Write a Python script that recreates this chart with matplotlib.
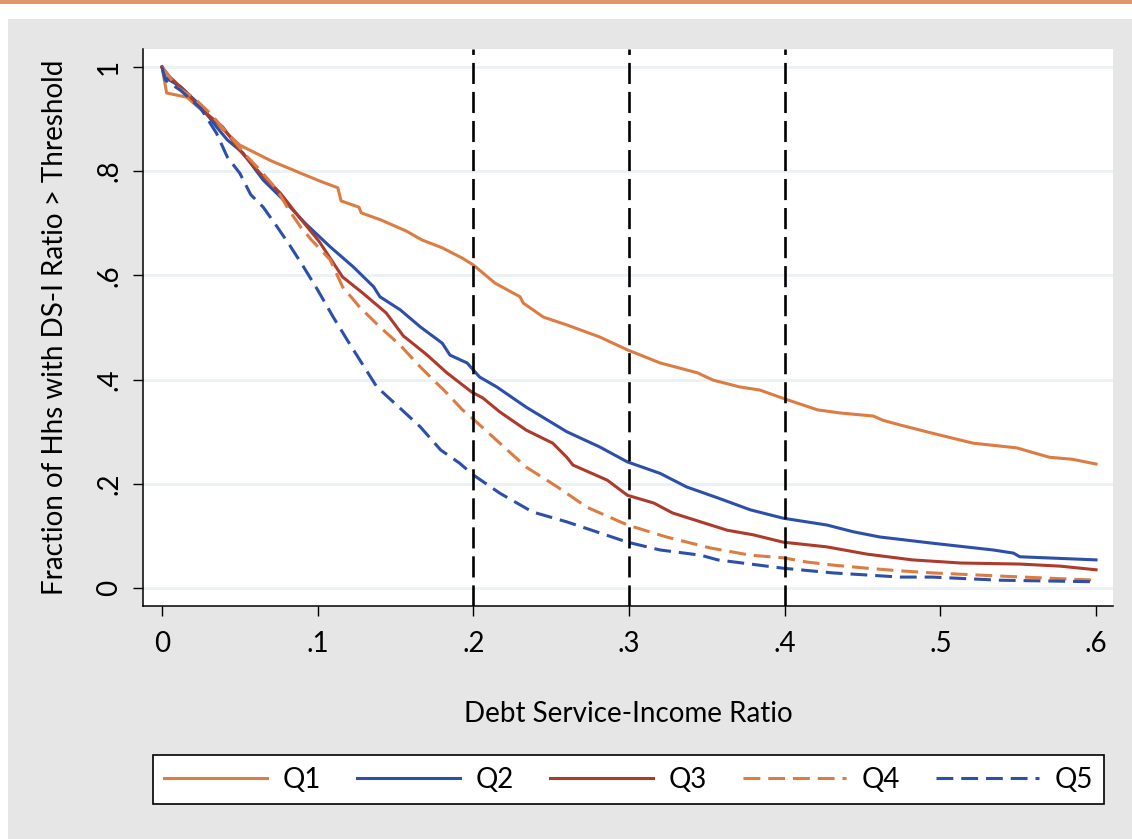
import matplotlib
matplotlib.use("Agg")
import matplotlib.pyplot as plt
from matplotlib.patches import Rectangle

plt.rcParams["font.family"] = ["Lato", "DejaVu Sans"]

# values (survival-style curves)
q1_x = [0, 0.003, 0.016, 0.03, 0.05, 0.07, 0.09, 0.1015, 0.113, 0.115, 0.1265, 0.128, 0.141,
        0.157, 0.167, 0.18, 0.193, 0.2, 0.214, 0.23, 0.232, 0.245, 0.26, 0.281, 0.299, 0.32,
        0.344, 0.354, 0.371, 0.384, 0.399, 0.421, 0.4355, 0.457, 0.463, 0.474, 0.495, 0.521,
        0.549, 0.57, 0.585, 0.6]
q1_y = [1.0, 0.95, 0.942, 0.905, 0.85, 0.82, 0.795, 0.781, 0.768, 0.743, 0.731, 0.72, 0.706,
        0.685, 0.668, 0.653, 0.633, 0.62, 0.585, 0.559, 0.547, 0.52, 0.505, 0.482, 0.457, 0.432,
        0.413, 0.399, 0.386, 0.38, 0.364, 0.342, 0.336, 0.33, 0.322, 0.313, 0.297, 0.278,
        0.269, 0.251, 0.247, 0.238]

q2_x = [0, 0.002, 0.012, 0.025, 0.035, 0.042, 0.052, 0.065, 0.078, 0.092, 0.108, 0.123, 0.136,
        0.14, 0.153, 0.166, 0.18, 0.185, 0.196, 0.204, 0.215, 0.234, 0.26, 0.281, 0.299, 0.32,
        0.337, 0.357, 0.378, 0.399, 0.427, 0.444, 0.461, 0.495, 0.534, 0.547, 0.551, 0.6]
q2_y = [1.0, 0.98, 0.962, 0.925, 0.885, 0.86, 0.835, 0.783, 0.745, 0.70, 0.655, 0.616, 0.578,
        0.559, 0.534, 0.501, 0.47, 0.447, 0.432, 0.405, 0.386, 0.347, 0.30, 0.271, 0.242, 0.22,
        0.194, 0.173, 0.150, 0.134, 0.121, 0.108, 0.098, 0.086, 0.073, 0.067, 0.06, 0.054]

q3_x = [0, 0.005, 0.016, 0.026, 0.039, 0.05, 0.063, 0.076, 0.087, 0.101, 0.116, 0.129, 0.144,
        0.155, 0.17, 0.183, 0.199, 0.206, 0.217, 0.234, 0.251, 0.26, 0.264, 0.286, 0.299, 0.316,
        0.328, 0.346, 0.363, 0.38, 0.399, 0.427, 0.453, 0.482, 0.513, 0.551, 0.577, 0.6]
q3_y = [1.0, 0.981, 0.95, 0.917, 0.885, 0.84, 0.796, 0.758, 0.716, 0.665, 0.597, 0.566, 0.528,
        0.484, 0.448, 0.413, 0.376, 0.365, 0.338, 0.303, 0.278, 0.251, 0.236, 0.207, 0.178, 0.163,
        0.144, 0.127, 0.111, 0.102, 0.088, 0.079, 0.065, 0.054, 0.048, 0.046, 0.042, 0.035]

q4_x = [0, 0.01, 0.02, 0.031, 0.044, 0.055, 0.063, 0.074, 0.081, 0.089, 0.096, 0.108, 0.116,
        0.127, 0.14, 0.153, 0.166, 0.183, 0.193, 0.2, 0.217, 0.234, 0.254, 0.273, 0.299, 0.324,
        0.352, 0.378, 0.399, 0.414, 0.431, 0.453, 0.474, 0.495, 0.538, 0.6]
q4_y = [1.0, 0.96, 0.942, 0.911, 0.866, 0.827, 0.802, 0.764, 0.728, 0.693, 0.668, 0.63, 0.578,
        0.539, 0.501, 0.466, 0.424, 0.374, 0.342, 0.324, 0.278, 0.232, 0.194, 0.155, 0.121, 0.098,
        0.077, 0.063, 0.058, 0.05, 0.044, 0.038, 0.033, 0.029, 0.023, 0.015]

q5_x = [0, 0.002, 0.012, 0.025, 0.035, 0.042, 0.05, 0.057, 0.065, 0.074, 0.082, 0.091, 0.1,
        0.11, 0.119, 0.127, 0.138, 0.153, 0.166, 0.179, 0.191, 0.2, 0.217, 0.238, 0.26, 0.281,
        0.299, 0.32, 0.346, 0.357, 0.399, 0.431, 0.453, 0.474, 0.495, 0.538, 0.6]
q5_y = [1.0, 0.975, 0.955, 0.92, 0.873, 0.827, 0.796, 0.755, 0.731, 0.693, 0.658, 0.616, 0.572,
        0.52, 0.476, 0.438, 0.386, 0.345, 0.309, 0.265, 0.24, 0.217, 0.182, 0.146, 0.127, 0.106,
        0.088, 0.073, 0.063, 0.054, 0.038, 0.029, 0.025, 0.021, 0.021, 0.015, 0.012]

labels = ["Q1", "Q2", "Q3", "Q4", "Q5"]
thresholds = [0.2, 0.3, 0.4]
x_ticks = [0, 0.1, 0.2, 0.3, 0.4, 0.5, 0.6]
x_ticklabels = ["0", ".1", ".2", ".3", ".4", ".5", ".6"]
y_ticks = [0, 0.2, 0.4, 0.6, 0.8, 1.0]
y_ticklabels = ["0", ".2", ".4", ".6", ".8", "1"]

ORANGE = "#dc7c42"
BLUE = "#2c4fa9"
RED = "#ae3a2c"
FS = 20
LW = 2.2

fig = plt.figure(figsize=(11.32, 8.39), dpi=100, facecolor="white")
fig.patches.append(Rectangle((8 / 1132, 0), 1, (839 - 19) / 839, transform=fig.transFigure,
                             facecolor="#e6e6e6", edgecolor="none", zorder=-2))
fig.patches.append(Rectangle((0, (839 - 3.5) / 839), 1, 3.5 / 839, transform=fig.transFigure,
                             facecolor="#e0966a", edgecolor="none", zorder=-1))

ax = fig.add_axes([143 / 1132, (839 - 606) / 839, (1113 - 143) / 1132, (606 - 49) / 839])
ax.set_facecolor("white")

dash = (5.5, 2.6)
ax.plot(q1_x, q1_y, color=ORANGE, lw=LW, label=labels[0], zorder=3)
ax.plot(q2_x, q2_y, color=BLUE, lw=LW, label=labels[1], zorder=3)
ax.plot(q3_x, q3_y, color=RED, lw=LW, label=labels[2], zorder=3)
ax.plot(q4_x, q4_y, color=ORANGE, lw=LW, ls=(0, dash), label=labels[3], zorder=3)
ax.plot(q5_x, q5_y, color=BLUE, lw=LW, ls=(0, dash), label=labels[4], zorder=3)
for t in thresholds:
    ax.axvline(t, color="black", lw=1.9, ls=(0, (8, 3)), zorder=4)

ax.set_xlim(-0.0122, 0.6109)
ax.set_ylim(-0.0345, 1.0345)
ax.set_xticks(x_ticks, x_ticklabels)
ax.set_yticks(y_ticks, y_ticklabels)
ax.tick_params(axis="both", length=7, width=1, labelsize=FS, color="black")
ax.tick_params(axis="x", pad=11)
ax.tick_params(axis="y", pad=8, labelrotation=90)
for lab in ax.get_yticklabels():
    lab.set_va("center")
ax.grid(axis="y", color="#eaf2f3", lw=2, zorder=0)
for s in ("top", "right"):
    ax.spines[s].set_visible(False)
for s in ("left", "bottom"):
    ax.spines[s].set_linewidth(1.1)

ax.set_xlabel("Debt Service-Income Ratio", fontsize=FS, labelpad=32)
ax.set_ylabel("Fraction of Hhs with DS-I Ratio > Threshold", fontsize=FS, labelpad=20)

leg = fig.legend(loc="center", ncol=5, mode="expand", fontsize=FS,
                 bbox_to_anchor=(153 / 1132, (839 - 806) / 839, 951 / 1132, 53 / 839),
                 handlelength=3.7, handletextpad=0.55, fancybox=False, framealpha=1,
                 edgecolor="black", borderaxespad=0)
leg.get_frame().set_linewidth(1.2)

fig.savefig("out.png", dpi=100, facecolor="white")
